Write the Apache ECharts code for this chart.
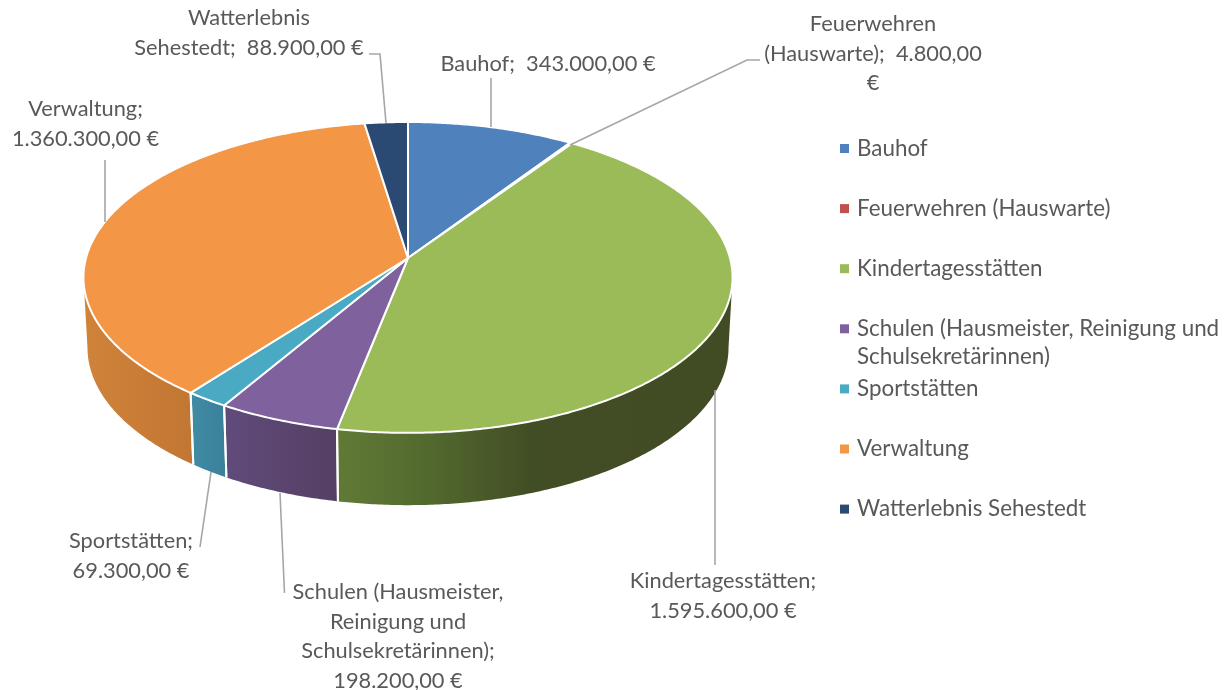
<!DOCTYPE html>
<html><head><meta charset="utf-8">
<style>html,body{margin:0;padding:0;background:#fff}#c{width:1227px;height:690px}</style>
<script src="https://cdn.jsdelivr.net/npm/echarts@6/dist/echarts.min.js"></script>
</head><body><div id="c"></div>
<script>
// DATA
const categories = ['Bauhof','Feuerwehren (Hauswarte)','Kindertagesstätten','Schulen (Hausmeister, Reinigung und Schulsekretärinnen)','Sportstätten','Verwaltung','Watterlebnis Sehestedt'];
const values = [343000,4800,1595600,198200,69300,1360300,88900];
const labelLines = [
  ['Bauhof;  343.000,00 €'],
  ['Feuerwehren','(Hauswarte);  4.800,00','€'],
  ['Kindertagesstätten;','1.595.600,00 €'],
  ['Schulen (Hausmeister,','Reinigung und','Schulsekretärinnen);','198.200,00 €'],
  ['Sportstätten;','69.300,00 €'],
  ['Verwaltung;','1.360.300,00 €'],
  ['Watterlebnis','Sehestedt;  88.900,00 €']
];
// STYLE
const topColors = ['#4f81bd','#c0504d','#9bbb59','#7f629d','#4aa9c3','#f39645','#2a4a74'];
const wallStops = [
  null,null,
  [[0,'#607a36'],[0.22,'#536a2e'],[0.5,'#414d25'],[1,'#414c24']],
  [[0,'#604b7b'],[1,'#553f63']],
  [[0,'#408ba5'],[1,'#3a8099']],
  [[0,'#d08339'],[1,'#c17633']],
  null
];
// LAYOUT
const labelPos = [[548,64],[873,24],[723,581],[398,592],[131,541],[85.5,109],[249,18]];
const leaders = [
  [[491,78],[491,127]],
  [[570,145],[747,60],[760,60]],
  [[715,390],[715,565]],
  [[280,493],[284.5,593]],
  [[211,472],[200,547]],
  [[105,222],[105,160]],
  [[369,54],[380,54],[386,123]]
];
const TOP = {cx:408,cy:258,A:322,B:153,p:0.125};
const BOT = {cx:408,cy:328,A:318,B:155,p:0.125};
const WALL_MIN = 97.2, WALL_MAX = 262.8;
const FONT = 'Lato, "Open Sans", sans-serif';
const FS = 21.8, LEGEND_FS = 22.4;
const TEXT = '#595959';

const total = values.reduce((a,b)=>a+b,0);
const starts = []; let acc = 0;
values.forEach(v=>{starts.push(acc/total*360); acc+=v;});

function rim(g,deg){
  const t=deg*Math.PI/180, u=Math.sin(t), v=-Math.cos(t), w=1-g.p*v;
  return [g.cx+g.A*u/w, g.cy+g.B*v/w];
}
function arc(g,a,b){
  const pts=[], n=Math.max(2,Math.ceil(Math.abs(b-a)/0.5));
  for(let i=0;i<=n;i++) pts.push(rim(g,a+(b-a)*i/n));
  return pts;
}
function renderSlice(i){
  return function(params,api){
    const val=api.value(0), a=starts[i], b=a+val/total*360;
    const children=[];
    const wa=Math.max(a,WALL_MIN), wb=Math.min(b,WALL_MAX);
    if(wb>wa && wallStops[i]){
      const pts=arc(TOP,wa,wb).concat(arc(BOT,wa,wb).reverse());
      children.push({type:'polygon',z2:1,silent:true,shape:{points:pts},
        style:{fill:new echarts.graphic.LinearGradient(0,0,1,0,wallStops[i].map(s=>({offset:s[0],color:s[1]})))}});
      [[a,a>=WALL_MIN],[b,b<=WALL_MAX]].forEach(e=>{
        if(e[1]) children.push({type:'polyline',z2:2,silent:true,shape:{points:[rim(TOP,e[0]),rim(BOT,e[0])]},
          style:{stroke:'#fff',lineWidth:2,fill:null}});
      });
    }
    children.push({type:'polygon',z2:3,silent:true,shape:{points:[[TOP.cx,TOP.cy]].concat(arc(TOP,a,b))},
      style:{fill:topColors[i],stroke:'#fff',lineWidth:2,lineJoin:'round'}});
    children.push({type:'polyline',z2:4,silent:true,shape:{points:leaders[i]},
      style:{stroke:'#a6a6a6',lineWidth:1.6,fill:null}});
    labelLines[i].forEach((ln,k)=>{
      children.push({type:'text',z2:5,silent:true,style:{text:ln,x:labelPos[i][0],y:labelPos[i][1]+k*29.7,
        textAlign:'center',textVerticalAlign:'middle',verticalAlign:'middle',fill:TEXT,font:FS+'px '+FONT}});
    });
    return {type:'group',children};
  };
}
const chart=echarts.init(document.getElementById('c'),null,{renderer:'canvas'});
chart.setOption({
  animation:false,
  backgroundColor:'#fff',
  legend:{
    orient:'vertical',left:835,top:132.5,icon:'rect',itemWidth:9,itemHeight:9,itemGap:38.1,padding:5,
    selectedMode:false,data:categories,
    formatter:n=>n.indexOf('Schulen')===0?'Schulen (Hausmeister, Reinigung und':n,
    textStyle:{fontFamily:FONT,fontSize:LEGEND_FS,color:TEXT,padding:[0,0,0,3],lineHeight:20}
  },
  graphic:[{type:'text',left:857,top:346,silent:true,style:{text:'Schulsekretärinnen)',fill:TEXT,font:LEGEND_FS+'px '+FONT}}],
  series:categories.map((name,i)=>({
    type:'custom',name,coordinateSystem:'none',silent:true,
    itemStyle:{color:topColors[i]},
    data:[[values[i]]],
    renderItem:renderSlice(i)
  }))
});
</script></body></html>
